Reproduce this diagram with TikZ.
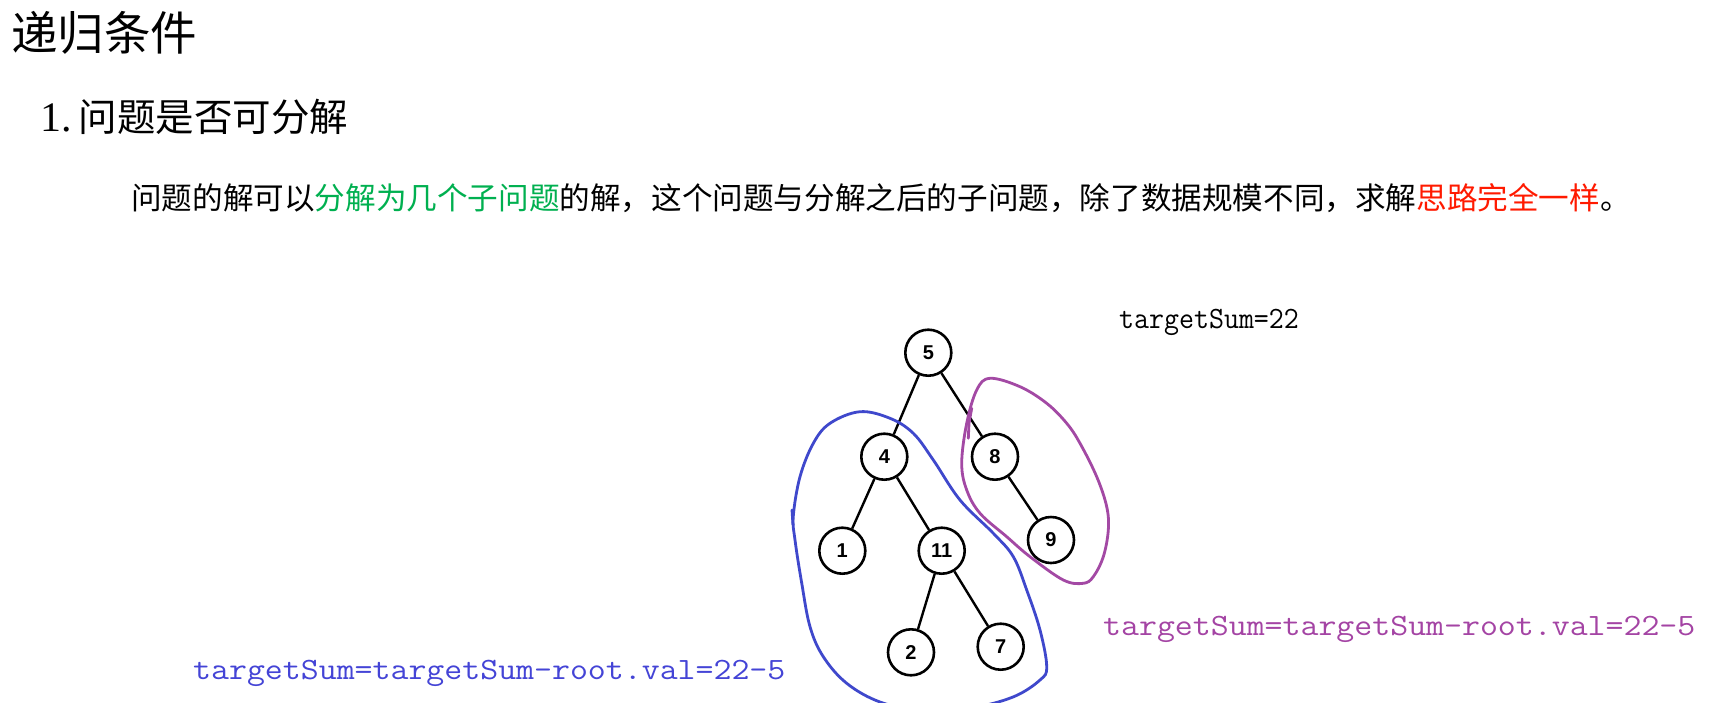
\documentclass[tikz,border=0pt]{standalone}
\usepackage{fontspec}
\newfontfamily\cjk{Noto Sans CJK SC}
\newfontfamily\monoA[FakeStretch=0.938]{Latin Modern Mono}
\newfontfamily\monoB[FakeStretch=1.124]{Latin Modern Mono}
\newfontfamily\serifA{Liberation Serif}
\newfontfamily\sansA{Liberation Sans}
\definecolor{okgreen}{HTML}{00B050}
\definecolor{okred}{HTML}{FF1A00}
\definecolor{loopblue}{HTML}{3F48CC}
\definecolor{textblue}{HTML}{4444D6}
\definecolor{looppurple}{HTML}{A349A4}
\definecolor{textpurple}{HTML}{A444A4}
\begin{document}
\begin{tikzpicture}[x=1pt,y=-1pt,
  treenode/.style={circle,draw=black,line width=2.6pt,minimum size=46pt,inner sep=0pt,
    font=\sansA\bfseries\fontsize{20}{20}\selectfont},
  treeedge/.style={line width=2.4pt,black},
  txt/.style={inner sep=0pt,anchor=base west},
  loopline/.style={line width=2.8pt,line join=round,line cap=round}]
\useasboundingbox (0,0) rectangle (1710,702);
\clip (0,0) rectangle (1710,702);
\fill[white] (0,0) rectangle (1710,702);

% texts
\node[txt] (title) at (11,50) {\cjk\fontsize{46.5}{50}\selectfont 递归条件};
\node[txt] (headnum) at (40,131) {\serifA\fontsize{42}{46}\selectfont 1.};
\node[txt] (head) at (78.5,131) {\cjk\fontsize{38.5}{42}\selectfont 问题是否可分解};
\node[txt] (body) at (131,209) {\cjk\fontsize{30.6}{34}\selectfont 问题的解可以\textcolor{okgreen}{分解为几个子问题}的解，这个问题与分解之后的子问题，除了数据规模不同，求解\textcolor{okred}{思路完全一样}。};
\node[txt] (ts) at (1119,328.5) {\monoA\fontsize{31}{33}\selectfont targetSum=22};
\node[txt,text=textpurple] (tsp) at (1103,635) {\monoB\fontsize{31}{33}\selectfont targetSum=targetSum-root.val=22-5};
\node[txt,text=textblue] (tsb) at (193,679.3) {\monoB\fontsize{31}{33}\selectfont targetSum=targetSum-root.val=22-5};

% tree
\node[treenode] (n5) at (928.3,352.7) {5};
\node[treenode] (n4) at (884.3,456.7) {4};
\node[treenode] (n8) at (995,456.7) {8};
\node[treenode] (n1) at (842.3,550.7) {1};
\node[treenode] (n11) at (941.7,550.7) {11};
\node[treenode] (n9) at (1051,540) {9};
\node[treenode] (n2) at (911,652.3) {2};
\node[treenode] (n7) at (1000.7,646.7) {7};
\draw[treeedge] (n5) -- (n4);
\draw[treeedge] (n5) -- (n8);
\draw[treeedge] (n4) -- (n1);
\draw[treeedge] (n4) -- (n11);
\draw[treeedge] (n11) -- (n2);
\draw[treeedge] (n11) -- (n7);
\draw[treeedge] (n8) -- (n9);

% blue loop
\draw[loopline,loopblue] plot[smooth cycle,tension=0.6] coordinates {
  (793.3,516) (800,476.7) (813.3,443.3) (830,423.3) (860,411.7) (890,418.3)
  (913.3,433.3) (933.3,460) (960,500) (993.3,533.3) (1013.3,556.7)
  (1026.7,590) (1040,630) (1046.7,666.7) (1040,680) (1013,697) (970,708)
  (920,710) (880,702) (846.7,683.3) (823.3,656.7) (810,626.7) (801.7,583)
  (795,540)};
\draw[loopline,loopblue] (792,510) -- (793,525);

% purple loop
\draw[loopline,looppurple] plot[smooth cycle,tension=0.6] coordinates {
  (961.7,463.3) (966.7,423.3) (976.7,390) (990,378.3) (1020,386.7)
  (1046.7,403.3) (1066.7,423.3) (1080,443.3) (1096.7,476.7) (1106.7,506.7)
  (1108.3,530) (1103.3,556.7) (1093.3,576.7) (1083.3,583.3) (1063.3,580)
  (1030,556.7) (1006.7,536.7) (980,513.3) (966.7,490)};
\draw[loopline,looppurple] (968.3,438.3) -- (969,423) -- (971.7,408.3);
\end{tikzpicture}
\end{document}
